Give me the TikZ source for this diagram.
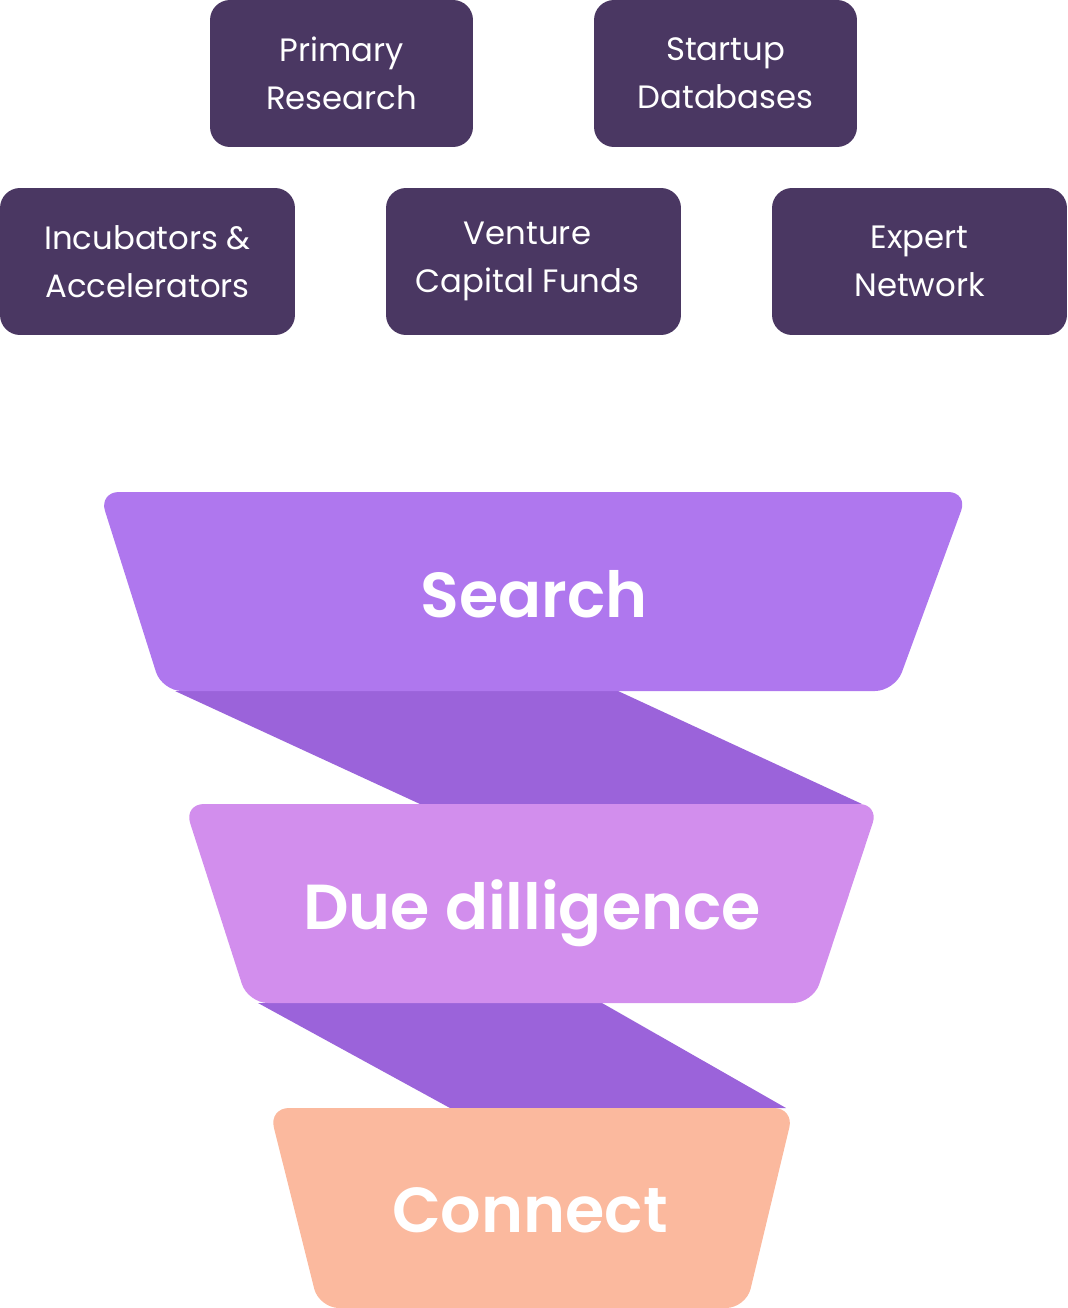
\documentclass[tikz,border=0pt]{standalone}
\usepackage{fontspec}
\setmainfont{Poppins}
\newfontfamily\semibold{Poppins SemiBold}
\definecolor{sourcecol}{HTML}{4A3762}
\definecolor{searchcol}{HTML}{AF77EE}
\definecolor{bandcol}{HTML}{9B63DA}
\definecolor{duecol}{HTML}{D28EED}
\definecolor{connectcol}{HTML}{FBB99E}

\begin{document}
\begin{tikzpicture}[x=0.02cm,y=-0.02cm,
	source/.style={fill=sourcecol, rounded corners=0.4cm, minimum width=5.26cm,
		minimum height=2.94cm, inner sep=0pt, align=center, text=white,
		font=\fontsize{18.4}{27.3}\selectfont},
	wide/.style={minimum width=5.9cm},
	stage/.style={anchor=base, text=white, inner sep=0pt,
		font=\semibold\fontsize{36.2}{40}\selectfont}]

	\useasboundingbox (0,0) rectangle (1068,1308);

	% sources
	\node[source] (primary) at (341.5,73.5) {Primary\\Research};
	\node[source] (startup) at (725.5,73.5) {Startup\\Databases};
	\node[source, wide] (incubators) at (147.5,261.5) {Incubators \&\\Accelerators};
	\node[source, wide] (venture) at (533.5,261.5) {Venture\hspace*{0.24cm}\\Capital Funds\hspace*{0.24cm}};
	\node[source, wide] (expert) at (919.5,261.5) {Expert\\Network};

	% bands between the stages
	\coordinate (a) at (175,691);
	\coordinate (b) at (618,691);
	\coordinate (c) at (862,804);
	\coordinate (d) at (420,804);
	\fill[bandcol](a) -- (b) -- (c) -- (d) -- cycle;

	\coordinate (e) at (258,1003);
	\coordinate (f) at (602,1003);
	\coordinate (g) at (786,1108);
	\coordinate (h) at (450,1108);
	\fill[bandcol](e) -- (f) -- (g) -- (h) -- cycle;

	% stages
	\fill[searchcol, rounded corners=0.4cm](99,492) -- (968,492) -- (895,691) -- (162,691) -- cycle;
	\node[stage] (search) at (534,617) {Search};

	\fill[duecol, rounded corners=0.4cm](184,804) -- (879,804) -- (813,1003) -- (248,1003) -- cycle;
	\node[stage] (due) at (532,929) {Due dilligence};

	\fill[connectcol, rounded corners=0.4cm](269,1108) -- (794,1108) -- (746,1308) -- (319,1308) -- cycle;
	\node[stage] (connect) at (530,1232) {Connect};

\end{tikzpicture}
\end{document}
